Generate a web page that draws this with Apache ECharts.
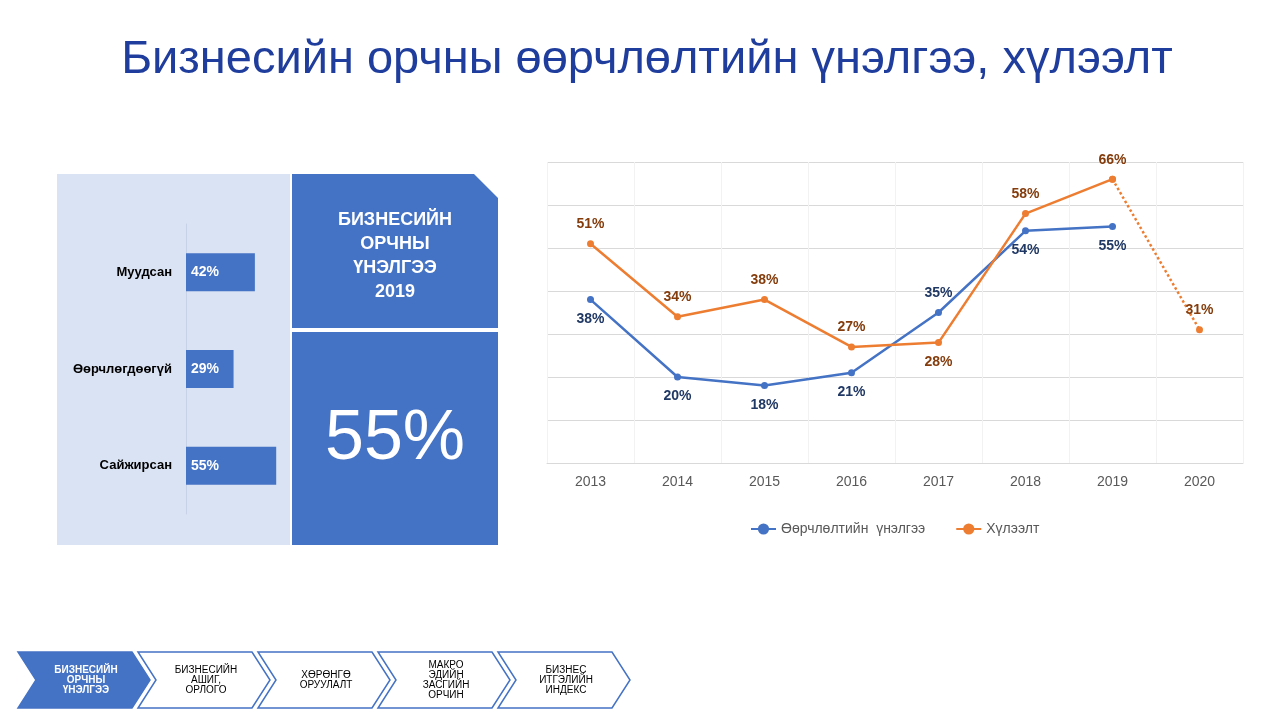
<!DOCTYPE html>
<html><head><meta charset="utf-8">
<script src="https://cdn.jsdelivr.net/npm/echarts@6/dist/echarts.min.js"></script>
<style>html,body{margin:0;padding:0;background:#fff}#c{width:1280px;height:720px}</style>
</head><body><div id="c"></div>
<script>
// line chart data
var years = ["2013", "2014", "2015", "2016", "2017", "2018", "2019", "2020"];
var assess = [38, 20, 18, 21, 35, 54, 55, null];
var expect = [51, 34, 38, 27, 28, 58, 66, null];
var expectForecast = [null, null, null, null, null, null, 66, 31];
var assessPos = ["bottom", "bottom", "bottom", "bottom", "top", "bottom", "bottom"];
var expectPos = ["top", "top", "top", "top", "bottom", "top", "top"];
// left bar data
var barCats = ["Сайжирсан", "Өөрчлөгдөөгүй", "Муудсан"];
var barVals = [55, 29, 42];
var bigValue = "55%";
var steps = ["БИЗНЕСИЙН\nОРЧНЫ\nҮНЭЛГЭЭ", "БИЗНЕСИЙН\nАШИГ,\nОРЛОГО", "ХӨРӨНГӨ\nОРУУЛАЛТ", "МАКРО\nЭДИЙН\nЗАСГИЙН\nОРЧИН", "БИЗНЕС\nИТГЭЛИЙН\nИНДЕКС"];

var blue = "#4472c4", orange = "#ed7d31";
var font = "Arial, Liberation Sans, sans-serif";

function pts(arr, pos) {
  return arr.map(function (v, i) {
    return v == null ? null : { value: v, label: { position: pos[i] || "top" } };
  });
}

var graphics = [
  { type: "rect", shape: { x: 57, y: 174, width: 233, height: 371 }, style: { fill: "#dae3f3" }, z: -1 },
  { type: "polygon", shape: { points: [[292, 174], [474, 174], [498, 198], [498, 328], [292, 328]] }, style: { fill: blue } },
  { type: "rect", shape: { x: 292, y: 332, width: 206, height: 213 }, style: { fill: blue } },
  { type: "text", style: { x: 395, y: 256, text: "БИЗНЕСИЙН\nОРЧНЫ\nҮНЭЛГЭЭ\n2019", fill: "#fff", font: "bold 18px " + font, align: "center", verticalAlign: "middle", lineHeight: 24 } },
  { type: "text", style: { x: 395, y: 440, text: bigValue, fill: "#fff", font: "70px " + font, align: "center", verticalAlign: "middle" } }
];
steps.forEach(function (s, i) {
  var x = 18 + i * 120, y = 652, w = 132, h = 56, tip = 18;
  graphics.push({ type: "polygon", shape: { points: [[x, y], [x + w - tip, y], [x + w, y + h / 2], [x + w - tip, y + h], [x, y + h], [x + tip, y + h / 2]] },
    style: { fill: i === 0 ? blue : "#fff", stroke: blue, lineWidth: 1.5 } });
  graphics.push({ type: "text", style: { x: x + w / 2 + 2, y: y + h / 2, text: s, fill: i === 0 ? "#fff" : "#000",
    font: (i === 0 ? "bold " : "") + "10px " + font, align: "center", verticalAlign: "middle", lineHeight: 10 } });
});

var chart = echarts.init(document.getElementById("c"));
chart.setOption({
  animation: false,
  title: { text: "Бизнесийн орчны өөрчлөлтийн үнэлгээ, хүлээлт", left: 642, top: 32, textAlign: "center",
    textStyle: { color: "#1f3d9c", fontSize: 47, fontWeight: "normal", fontFamily: font } },
  legend: { data: ["Өөрчлөлтийн  үнэлгээ", "Хүлээлт"], left: 745, top: 517, itemGap: 30,
    textStyle: { color: "#595959", fontSize: 14, fontFamily: font } },
  graphic: graphics,
  grid: [
    { left: 547, right: 37, top: 162, bottom: 257 },
    { left: 186, width: 164, top: 224, height: 290 }
  ],
  xAxis: [
    { type: "category", data: years, gridIndex: 0, axisTick: { show: false },
      axisLine: { lineStyle: { color: "#d9d9d9" } },
      axisLabel: { color: "#595959", fontSize: 14, margin: 12, fontFamily: font },
      splitLine: { show: true, lineStyle: { color: "#f2f2f2" } } },
    { type: "value", gridIndex: 1, min: 0, max: 100, show: false }
  ],
  yAxis: [
    { type: "value", gridIndex: 0, min: 0, max: 70, interval: 10, axisLabel: { show: false },
      splitLine: { lineStyle: { color: "#d9d9d9" } } },
    { type: "category", gridIndex: 1, data: barCats, axisTick: { show: false },
      axisLine: { lineStyle: { color: "#c8d2e6" } },
      axisLabel: { color: "#000", fontWeight: "bold", fontSize: 13, margin: 14, fontFamily: font } }
  ],
  series: [
    { name: "Өөрчлөлтийн  үнэлгээ", type: "line", data: pts(assess, assessPos), color: blue,
      symbol: "circle", symbolSize: 7, lineStyle: { width: 2.5 },
      label: { show: true, formatter: "{c}%", color: "#203864", fontWeight: "bold", fontSize: 14, distance: 9, fontFamily: font } },
    { name: "Хүлээлт", type: "line", data: pts(expect, expectPos), color: orange,
      symbol: "circle", symbolSize: 7, lineStyle: { width: 2.5 },
      label: { show: true, formatter: "{c}%", color: "#843c0c", fontWeight: "bold", fontSize: 14, distance: 9, fontFamily: font } },
    { name: "forecast", type: "line", data: expectForecast.map(function (v, i) {
        return v == null ? null : { value: v, label: { show: i === 7 } };
      }), color: orange, symbol: "circle", symbolSize: 7, z: 1,
      lineStyle: { width: 2.5, type: "dotted" },
      label: { show: true, position: "top", formatter: "{c}%", color: "#843c0c", fontWeight: "bold", fontSize: 14, distance: 9, fontFamily: font } },
    { type: "bar", xAxisIndex: 1, yAxisIndex: 1, data: barVals, barWidth: 38, color: blue,
      label: { show: true, position: "insideLeft", formatter: "{c}%", color: "#fff", fontWeight: "bold", fontSize: 14, fontFamily: font } }
  ]
});
</script></body></html>
